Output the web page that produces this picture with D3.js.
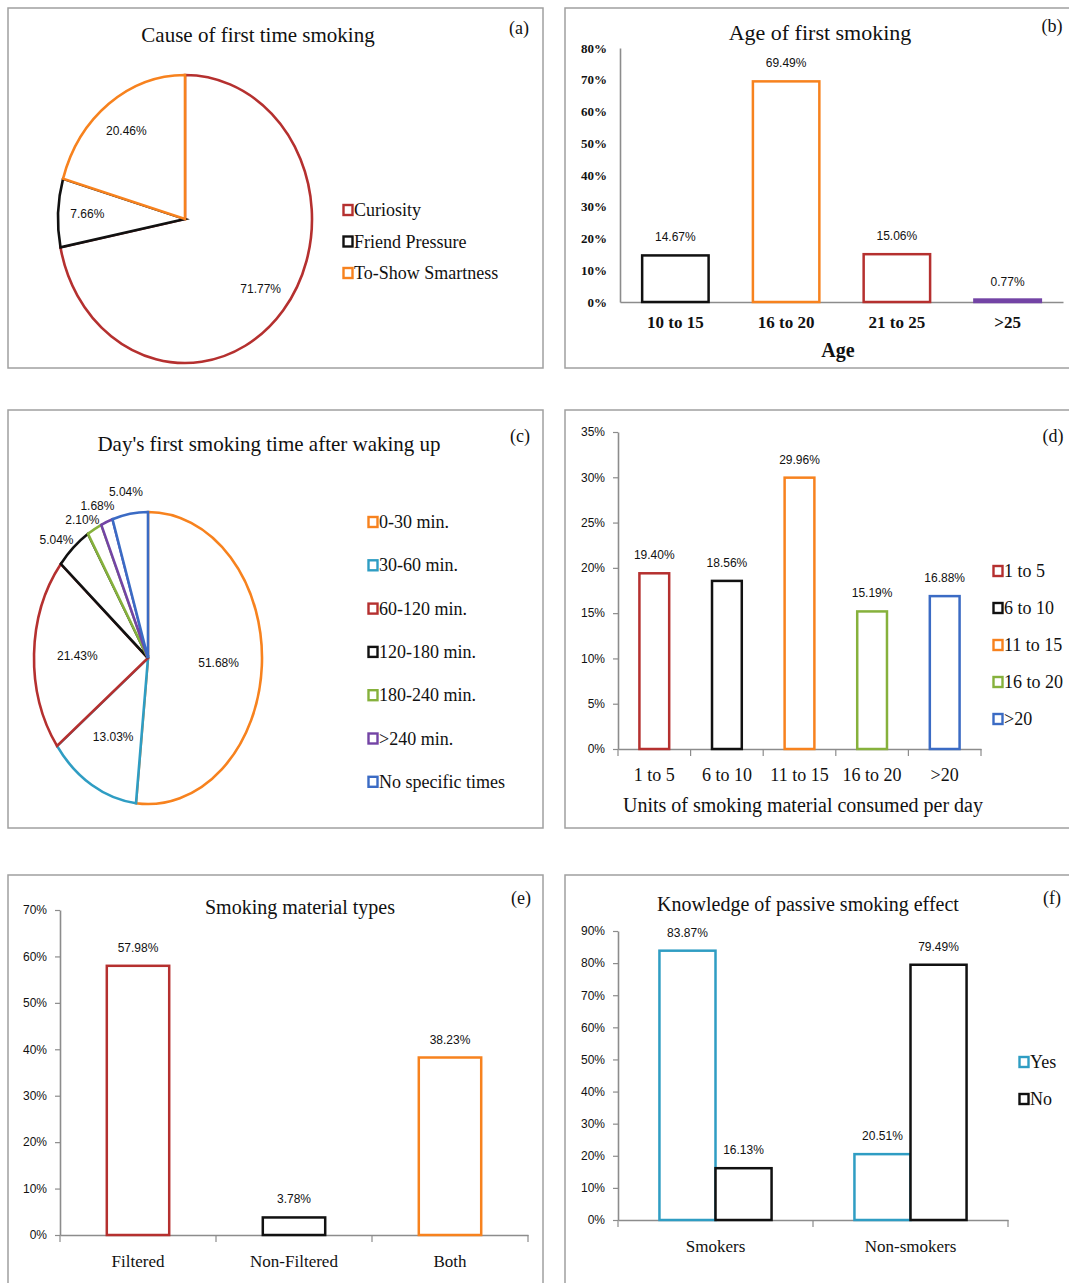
<!DOCTYPE html>
<html>
<head>
<meta charset="utf-8">
<script src="https://cdn.jsdelivr.net/npm/d3@7"></script>
<style>
body { margin: 0; background: #fff; }
text { font-family: "Liberation Serif", "Times New Roman", serif; fill: #111; }
.num { font-family: "Liberation Sans", Arial, sans-serif; font-size: 12px; }
</style>
</head>
<body>
<svg width="1069" height="1283"></svg>
<script>
// (a) cause of first time smoking
var causeLabels = ["Curiosity", "Friend Pressure", "To-Show Smartness"];
var causeValues = [71.77, 7.66, 20.46];

// (b) age of first smoking
var ageCats = ["10 to 15", "16 to 20", "21 to 25", ">25"];
var ageValues = [14.67, 69.49, 15.06, 0.77];
var ageTicks = [0, 10, 20, 30, 40, 50, 60, 70, 80];

// (c) first smoking after waking up
var wakeLabels = ["0-30 min.", "30-60 min.", "60-120 min.", "120-180 min.", "180-240 min.", ">240 min.", "No specific times"];
var wakeValues = [51.68, 13.03, 21.43, 5.04, 2.10, 1.68, 5.04];

// (d) units per day
var unitCats = ["1 to 5", "6 to 10", "11 to 15", "16 to 20", ">20"];
var unitValues = [19.40, 18.56, 29.96, 15.19, 16.88];
var unitTicks = [0, 5, 10, 15, 20, 25, 30, 35];

// (e) material types
var typeCats = ["Filtered", "Non-Filtered", "Both"];
var typeValues = [57.98, 3.78, 38.23];
var typeTicks = [0, 10, 20, 30, 40, 50, 60, 70];

// (f) passive smoking knowledge
var groupCats = ["Smokers", "Non-smokers"];
var knowSeries = ["Yes", "No"];
var knowYes = [83.87, 20.51];
var knowNo = [16.13, 79.49];
var knowTicks = [0, 10, 20, 30, 40, 50, 60, 70, 80, 90];

var RED = "#b5302f", BLACK = "#111111", ORANGE = "#f7821e", TEAL = "#2f9dc3",
    GREEN = "#86b13c", PURPLE = "#7344a5", BLUE = "#3b6bc4", AXIS = "#8c8c8c";

var svg = d3.select("svg");

function frame(x, y, w, h) {
    svg.append("rect").attr("x", x).attr("y", y).attr("width", w).attr("height", h)
        .attr("fill", "none").attr("stroke", "#a0a0a0").attr("stroke-width", 1.5);
}
frame(8, 8, 535, 360);
frame(565, 8, 520, 360);
frame(8, 410, 535, 418);
frame(565, 410, 520, 418);
frame(8, 875, 535, 430);
frame(565, 875, 520, 430);

function title(x, y, txt, size, weight) {
    return svg.append("text").attr("x", x).attr("y", y).attr("text-anchor", "middle")
        .attr("font-size", size).attr("font-weight", weight || null).text(txt);
}
title(258, 42, "Cause of first time smoking", 21);
title(820, 40, "Age of first smoking", 22);
title(269, 451, "Day's first smoking time after waking up", 21);
title(300, 914, "Smoking material types", 20);
title(808, 911, "Knowledge of passive smoking effect", 20);

[["(a)", 519, 34], ["(b)", 1052, 32], ["(c)", 520, 442], ["(d)", 1053, 442], ["(e)", 521, 904], ["(f)", 1052, 904]]
    .forEach(function(p) { title(p[1], p[2], p[0], 18); });

function legend(x, y0, dy, labels, colors, size) {
    var g = svg.append("g");
    labels.forEach(function(l, i) {
        var y = y0 + i * dy;
        g.append("rect").attr("x", x - 4.5).attr("y", y - 5).attr("width", 9).attr("height", 10)
            .attr("fill", "#fff").attr("stroke", colors[i]).attr("stroke-width", 2.4);
        g.append("text").attr("x", x + 6).attr("y", y + 6).attr("font-size", size).text(l);
    });
}

//pies are stretched ellipses, so draw them on a circle and squash x
function drawPie(cx, cy, rx, ry, values, colors, inFrac, outside) {
    var g = svg.append("g").attr("transform", "translate(" + cx + "," + cy + ")");
    var arcs = d3.pie().sort(null).value(function(d) { return d; })(values);
    var arc = d3.arc().innerRadius(0).outerRadius(ry);
    g.append("g").attr("transform", "scale(" + (rx / ry) + ",1)")
        .selectAll("path").data(arcs).enter().append("path")
        .attr("d", arc)
        .attr("fill", "#fff")
        .attr("stroke", function(d, i) { return colors[i]; })
        .attr("stroke-width", 2.6)
        .attr("vector-effect", "non-scaling-stroke");

    //label positions: inside on the centroid, small slices outside the rim,
    //pushed up when they would hit the previous one
    var w = 36, h = 13, gapX = 8, gapY = 4, prev = null;
    var pos = arcs.map(function(d) {
        var mid = (d.startAngle + d.endAngle) / 2;
        var ux = Math.sin(mid), uy = -Math.cos(mid);
        if (!outside(d)) {
            var c = d3.arc().innerRadius(ry * inFrac).outerRadius(ry * inFrac).centroid(d);
            return [c[0] * rx / ry, c[1]];
        }
        var p = [ux * rx + ux * (w / 2 + gapX), uy * ry + uy * (h / 2 + gapY)];
        if (prev && Math.abs(p[0] - prev[0]) < w && Math.abs(p[1] - prev[1]) < h + 1) {
            p[1] = prev[1] - h - 1;
        }
        prev = p;
        return p;
    });
    g.selectAll("text.num").data(arcs).enter().append("text")
        .attr("class", "num")
        .attr("text-anchor", "middle")
        .attr("dy", "0.35em")
        .attr("x", function(d, i) { return pos[i][0]; })
        .attr("y", function(d, i) { return pos[i][1]; })
        .text(function(d) { return d.data.toFixed(2) + "%"; });
}

var causeColors = [RED, BLACK, ORANGE];
drawPie(185, 219, 127, 144, causeValues, causeColors, 0.77, function() { return false; });
legend(348, 210, 31.5, causeLabels, causeColors, 18);

var wakeColors = [ORANGE, TEAL, RED, BLACK, GREEN, PURPLE, BLUE];
drawPie(148, 658, 114, 146, wakeValues, wakeColors, 0.62, function(d) { return d.data < 10; });
legend(373, 522, 43.3, wakeLabels, wakeColors, 18);

//generic outlined bar chart
function barChart(o) {
    var g = svg.append("g");
    var x = d3.scaleBand().domain(o.cats).range([o.x0, o.x1])
        .paddingInner(o.pad).paddingOuter(o.pad / 2);
    var y = d3.scaleLinear().domain([0, d3.max(o.ticks)]).range([o.y0, o.y1]);

    var ya = g.append("g").attr("transform", "translate(" + o.x0 + ",0)")
        .call(d3.axisLeft(y).tickValues(o.ticks).tickFormat(function(d) { return d + "%"; })
            .tickSize(o.yTick).tickSizeOuter(0).tickPadding(o.yTick ? 8 : 13));
    ya.selectAll("text").attr("class", o.boldTicks ? null : "num")
        .attr("font-size", o.boldTicks ? 13 : 12).attr("font-weight", o.boldTicks ? "bold" : null)
        .style("font-family", o.boldTicks ? "'Liberation Serif', serif" : null).attr("fill", "#222");

    var xa = g.append("g").attr("transform", "translate(0," + o.y0 + ")")
        .call(d3.axisBottom(x).tickSize(0).tickPadding(o.catPad));
    xa.selectAll("text").attr("font-size", o.catSize).attr("font-weight", o.catWeight || null)
        .style("font-family", "'Liberation Serif', serif").attr("fill", "#111");

    g.selectAll(".domain").attr("stroke", AXIS).attr("stroke-width", 1.6);
    g.selectAll(".tick line").attr("stroke", AXIS).attr("stroke-width", 1.2);
    g.selectAll("text").attr("font-family", null);

    if (o.boundTicks) {
        g.selectAll("line.bt").data(d3.range(o.cats.length + 1)).enter().append("line")
            .attr("x1", function(i) { return o.x0 + i * x.step(); })
            .attr("x2", function(i) { return o.x0 + i * x.step(); })
            .attr("y1", o.y0).attr("y2", o.y0 + 7)
            .attr("stroke", AXIS).attr("stroke-width", 1.2);
    }

    var series = o.series;
    var xs = d3.scaleBand().domain(d3.range(series.length)).range([0, x.bandwidth()]);
    series.forEach(function(s, si) {
        g.append("g").selectAll("rect").data(s.values).enter().append("rect")
            .attr("x", function(d, i) { return x(o.cats[i]) + xs(si); })
            .attr("y", function(d) { return y(d); })
            .attr("width", xs.bandwidth())
            .attr("height", function(d) { return o.y0 - y(d); })
            .attr("fill", "#fff")
            .attr("stroke", function(d, i) { return s.colors[i]; })
            .attr("stroke-width", 2.5);
        g.append("g").selectAll("text").data(s.values).enter().append("text")
            .attr("class", "num")
            .attr("text-anchor", "middle")
            .attr("x", function(d, i) { return x(o.cats[i]) + xs(si) + xs.bandwidth() / 2; })
            .attr("y", function(d) { return y(d) - 14; })
            .text(function(d) { return d.toFixed(2) + "%"; });
    });
    return x;
}

// (b)
barChart({
    cats: ageCats, ticks: ageTicks, x0: 620, x1: 1063, y0: 302, y1: 48, pad: 0.4,
    yTick: 0, boldTicks: true, catPad: 14, catSize: 17, catWeight: "bold", boundTicks: false,
    series: [{ values: ageValues, colors: [BLACK, ORANGE, RED, PURPLE] }]
});
title(838, 357, "Age", 20, "bold");

// (d)
barChart({
    cats: unitCats, ticks: unitTicks, x0: 618, x1: 981, y0: 749, y1: 432, pad: 0.59,
    yTick: 5, catPad: 19, catSize: 18, boundTicks: true,
    series: [{ values: unitValues, colors: [RED, BLACK, ORANGE, GREEN, BLUE] }]
});
title(803, 812, "Units of smoking material  consumed per day", 20);
legend(998, 571, 37, unitCats, [RED, BLACK, ORANGE, GREEN, BLUE], 18);

// (e)
barChart({
    cats: typeCats, ticks: typeTicks, x0: 60, x1: 528, y0: 1235, y1: 910, pad: 0.6,
    yTick: 5, catPad: 20, catSize: 17, boundTicks: true,
    series: [{ values: typeValues, colors: [RED, BLACK, ORANGE] }]
});

// (f)
barChart({
    cats: groupCats, ticks: knowTicks, x0: 618, x1: 1008, y0: 1220, y1: 931, pad: 0.425,
    yTick: 5, catPad: 20, catSize: 17, boundTicks: true,
    series: [{ values: knowYes, colors: [TEAL, TEAL] }, { values: knowNo, colors: [BLACK, BLACK] }]
});
legend(1024, 1062, 37, knowSeries, [TEAL, BLACK], 18);
</script>
</body>
</html>
